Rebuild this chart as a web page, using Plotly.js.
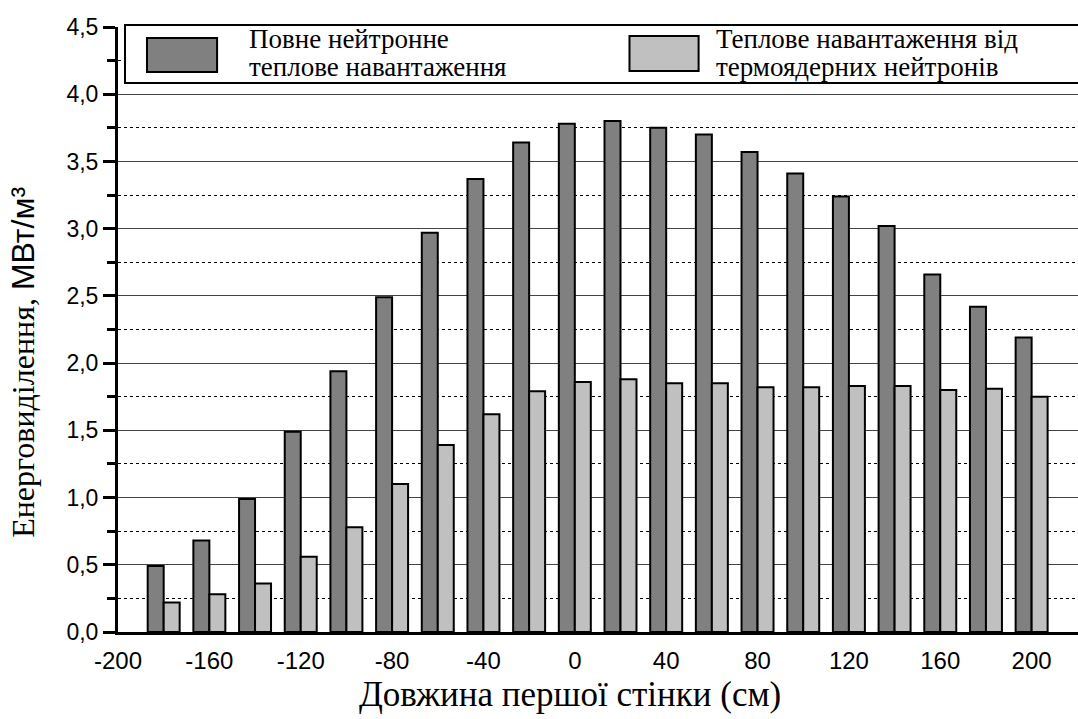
<!DOCTYPE html>
<html><head><meta charset="utf-8">
<script src="https://cdn.plot.ly/plotly-3.0.1.min.js"></script>
<style>html,body{margin:0;padding:0;background:#fff}#chart{width:1078px;height:719px}</style>
</head><body><div id="chart"></div>
<script>
// Position along the first wall (cm)
const positions = [-180,-160,-140,-120,-100,-80,-60,-40,-20,0,20,40,60,80,100,120,140,160,180,200];
// Full neutron heat load (MW/m3)
const totalLoad = [0.49,0.68,0.99,1.49,1.94,2.49,2.97,3.37,3.64,3.78,3.80,3.75,3.70,3.57,3.41,3.24,3.02,2.66,2.42,2.19];
// Heat load from fusion neutrons (MW/m3)
const fusionLoad = [0.22,0.28,0.36,0.56,0.78,1.10,1.39,1.62,1.79,1.86,1.88,1.85,1.85,1.82,1.82,1.83,1.83,1.80,1.81,1.75];
const seriesNames = ['Повне нейтронне теплове навантаження','Теплове навантаження від термоядерних нейтронів'];
const legendLines = [['Повне нейтронне','теплове навантаження'],['Теплове навантаження від','термоядерних нейтронів']];
const xTickVals = [-200,-160,-120,-80,-40,0,40,80,120,160,200];
const xTickText = ['-200','-160','-120','-80','-40','0','40','80','120','160','200'];
const xMarkVals = [-180,-140,-100,-60,-20,20,60,100,140,180,220];
const xTitle = 'Довжина першої стінки (см)';
const yTitle = 'Енерговиділення, <span style="font-family:Liberation Sans, Arial, sans-serif">МВт/м³</span>';

const colors = ['#808080','#c0c0c0'];
const serif = 'Liberation Serif, Times New Roman, serif';
const sans = 'Liberation Sans, Arial, sans-serif';

const traces = [
  {type:'bar', x:positions, y:totalLoad, name:seriesNames[0], marker:{color:colors[0], line:{color:'#000', width:2}}, showlegend:false},
  {type:'bar', x:positions, y:fusionLoad, name:seriesNames[1], marker:{color:colors[1], line:{color:'#000', width:2}}, showlegend:false}
];

const xRange = [-200, 220.3];
const legendX = [[0.0302,0.1032,0.1345],[0.5328,0.6048,0.6204]];
const legendY = [[0.9256,0.9818],[0.9273,0.9851]];
const lineY = [0.9795, 0.9345];

const shapes = [
  {type:'rect', xref:'paper', yref:'paper', x0:0.0073, x1:1.02, y0:0.9074, y1:1.0033,
   line:{color:'#000', width:2}, fillcolor:'#fff', layer:'above'}
];
const annotations = [
  {xref:'paper', yref:'paper', x:0.4713, y:-0.1025, xanchor:'center', yanchor:'middle',
   showarrow:false, text:xTitle, font:{family:serif, size:35, color:'#000'}},
  {xref:'paper', yref:'paper', x:-0.0991, y:0.4463, xanchor:'center', yanchor:'middle', textangle:-90,
   showarrow:false, text:yTitle, font:{family:serif, size:32, color:'#000'}}
];
for (let i = 0; i < 2; i++) {
  shapes.push({type:'rect', xref:'paper', yref:'paper', x0:legendX[i][0], x1:legendX[i][1],
    y0:legendY[i][0], y1:legendY[i][1], line:{color:'#000', width:2}, fillcolor:colors[i], layer:'above'});
  for (let j = 0; j < 2; j++) {
    annotations.push({xref:'paper', yref:'paper', x:legendX[i][2], y:lineY[j], xanchor:'left', yanchor:'middle',
      showarrow:false, text:legendLines[i][j], font:{family:serif, size:27, color:'#000'}});
  }
}

const layout = {
  width:1078, height:719,
  margin:{l:118, r:0, t:27, b:87},
  paper_bgcolor:'#fff', plot_bgcolor:'#fff',
  separators:', ',
  barmode:'group', bargap:0.3, bargroupgap:0,
  showlegend:false,
  font:{family:sans, color:'#000', size:22},
  xaxis:{
    range:xRange, tickmode:'array', tickvals:xTickVals, ticktext:xTickText,
    ticks:'outside', ticklen:5, tickcolor:'rgba(0,0,0,0)',
    showline:true, linecolor:'#000', linewidth:3,
    showgrid:false, zeroline:false,
    tickfont:{family:sans, size:24, color:'#000'}
  },
  xaxis2:{
    overlaying:'x', anchor:'y', side:'bottom',
    range:xRange, tickmode:'array', tickvals:xMarkVals,
    showticklabels:false, ticks:'outside', ticklen:10, tickwidth:3, tickcolor:'#000',
    showline:false, showgrid:false, zeroline:false
  },
  yaxis:{
    range:[0,4.5], dtick:0.5, tickformat:'.1f',
    ticks:'outside', ticklen:12, tickwidth:3, tickcolor:'#000',
    showline:true, linecolor:'#000', linewidth:3,
    showgrid:true, gridcolor:'#444', gridwidth:1,
    zeroline:false,
    tickfont:{family:sans, size:23, color:'#000'},
    minor:{dtick:0.25, ticks:'outside', ticklen:8, tickwidth:3, tickcolor:'#000',
           showgrid:true, gridcolor:'#000', gridwidth:1, griddash:'3px,3px'}
  },
  shapes:shapes,
  annotations:annotations
};

Plotly.newPlot('chart', traces, layout, {displayModeBar:false, staticPlot:true});
</script>
</body></html>
